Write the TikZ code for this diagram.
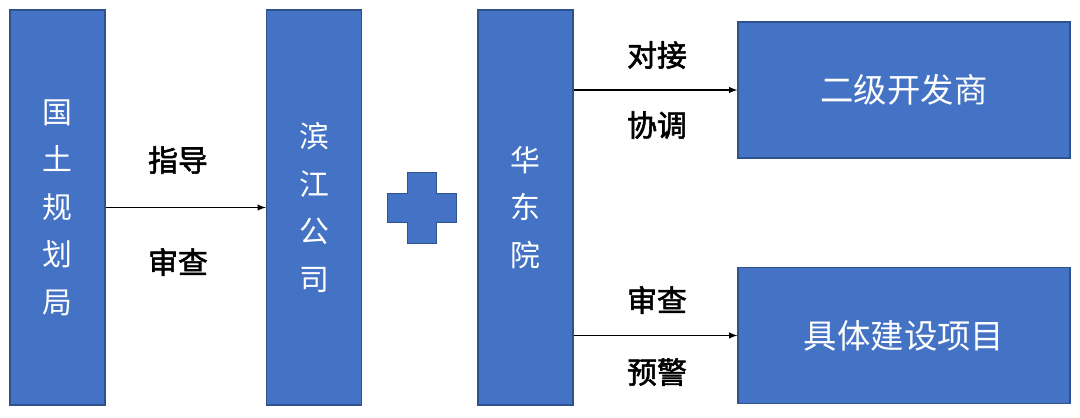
\documentclass[tikz,border=0pt]{standalone}
\usepackage{fontspec}
\setmainfont{Noto Sans CJK SC}[AutoFakeBold=2]
\usetikzlibrary{positioning}
\definecolor{boxblue}{HTML}{4472C4}
\definecolor{boxedge}{HTML}{2F528F}
\begin{document}
\begin{tikzpicture}
		[x=0.02cm,y=-0.02cm,
		box/.style={draw=boxedge,fill=boxblue,thick,text=white,inner sep=0pt},
		tallbox/.style={box,minimum width=95*0.02cm,minimum height=395*0.02cm,
align=center,font=\fontsize{17}{27}\selectfont},
		widebox/.style={box,minimum width=332*0.02cm,minimum height=136*0.02cm,
font=\fontsize{19}{22}\selectfont},
		lbl/.style={font=\fontsize{17}{20}\selectfont\bfseries},
		link/.style={->,>=latex,semithick}]
		\useasboundingbox (0,0) rectangle (1080,417);
		\node at (57.5,207.5) (bureau) [tallbox] {国\\土\\规\\划\\局};
		\node at (314,207.5) (binjiang) [tallbox] {滨\\江\\公\\司};
		\node at (525.5,207.5) (huadong) [tallbox] {华\\东\\院};
		\node at (904,90) (developer) [widebox] {二级开发商};
		\node at (904,335.5) (project) [widebox] {具体建设项目};
		% plus sign
		\fill[boxblue,draw=boxedge] (407,172) -- (436,172) -- (436,193) -- (456,193)
			-- (456,222) -- (436,222) -- (436,243) -- (407,243) -- (407,222)
			-- (387,222) -- (387,193) -- (407,193) -- cycle;
		\draw[link] (bureau) -- (binjiang);
		\draw[link] (huadong.east |- developer) -- (developer);
		\draw[link] (huadong.east |- project) -- (project);
		\node at (178,160) (guide) [lbl] {指导};
		\node at (178,262) (check1) [lbl] {审查};
		\node at (657,55) (dock) [lbl] {对接};
		\node at (657,125) (coord) [lbl] {协调};
		\node at (657,300) (check2) [lbl] {审查};
		\node at (657,372) (warn) [lbl] {预警};
	\end{tikzpicture}
\end{document}
